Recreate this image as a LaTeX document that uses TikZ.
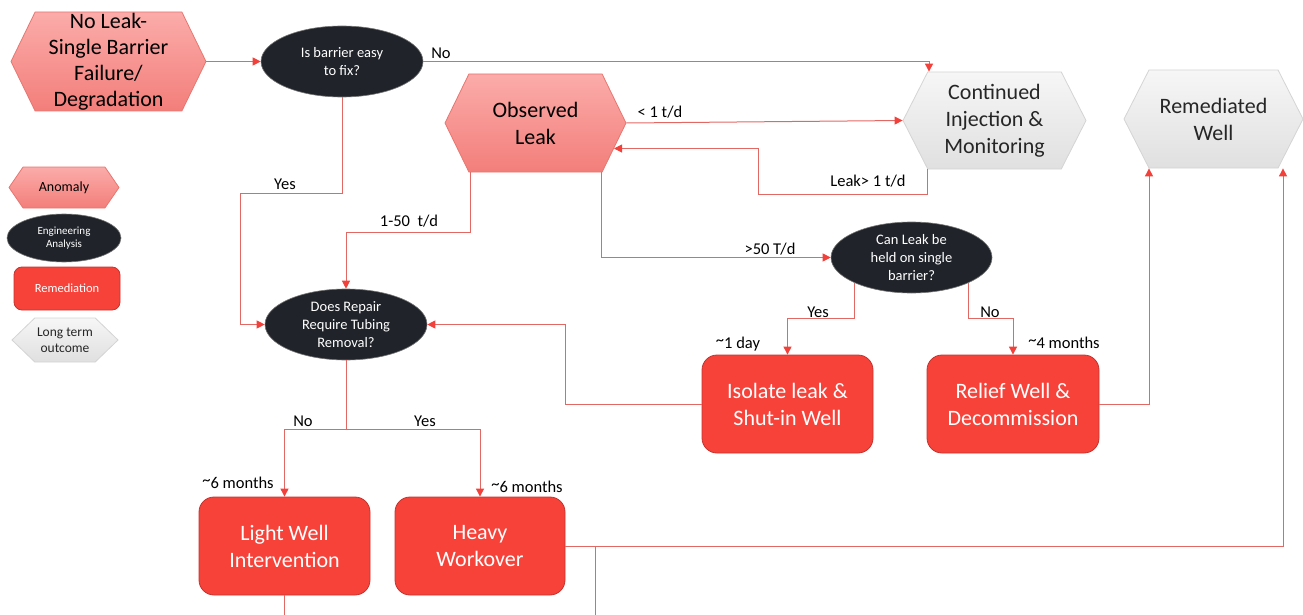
\documentclass[tikz,border=0pt]{standalone}
\usepackage{fontspec}
\setmainfont{Carlito}
\usetikzlibrary{arrows.meta,shapes.symbols,shapes.geometric}
\definecolor{lnred}{RGB}{226,104,100}
\definecolor{tipred}{RGB}{242,64,58}
\definecolor{anotop}{RGB}{251,172,170}
\definecolor{anobot}{RGB}{243,126,122}
\definecolor{anoedge}{RGB}{232,118,112}
\definecolor{engfill}{RGB}{32,36,42}
\definecolor{remfill}{RGB}{247,66,58}
\definecolor{remedge}{RGB}{196,52,46}
\definecolor{outtop}{RGB}{246,246,246}
\definecolor{outbot}{RGB}{224,224,224}
\definecolor{outedge}{RGB}{212,212,212}
\newcommand{\bigtxt}{\fontsize{22}{27}\selectfont}
\newcommand{\qtxt}{\fontsize{14.5}{18}\selectfont}
\newcommand{\lbltxt}{\fontsize{16.5}{19}\selectfont}
\newcommand{\about}{\raisebox{0.35ex}{\textasciitilde}}
\begin{document}
\begin{tikzpicture}[x=1pt,y=-1pt,
  hexbox/.style={signal, signal to=east and west, inner sep=0pt, align=center},
  anomaly/.style={hexbox, draw=anoedge, line width=0.8pt, top color=anotop, bottom color=anobot},
  outcome/.style={hexbox, draw=outedge, line width=0.8pt, top color=outtop, bottom color=outbot, text=black!85},
  question/.style={ellipse, fill=engfill, draw=black!55, line width=0.6pt, text=white, inner sep=0pt, align=center, font=\qtxt},
  remedy/.style={rectangle, rounded corners=15pt, fill=remfill, draw=remedge, line width=0.8pt, text=white, inner sep=0pt, align=center, font=\bigtxt},
  line/.style={draw=lnred, line width=1pt},
  conn/.style={line, -{Triangle[length=8pt,width=8pt,color=tipred]}},
  lbl/.style={font=\lbltxt, inner sep=0pt}]
\useasboundingbox (0,0) rectangle (1303,615);

% Marking anomalies
\node[anomaly, minimum width=195pt, minimum height=99pt, signal pointer angle=128, font=\fontsize{22}{26}\selectfont] (nolk) at (108.5,61.5) {No Leak-\\Single Barrier\\Failure/\\Degradation};
\node[anomaly, minimum width=181pt, minimum height=98pt, signal pointer angle=128, font=\bigtxt] (obs) at (535.5,123) {Observed\\Leak};

% Marking questions
\node[question, minimum width=162pt, minimum height=71pt] (easy) at (342,61.5) {Is barrier easy\\to fix?};
\node[question, minimum width=162pt, minimum height=71pt] (rep) at (346,324.5) {Does Repair\\Require Tubing\\Removal?};
\node[question, minimum width=161pt, minimum height=71pt] (hold) at (911.5,257.5) {Can Leak be\\held on single\\barrier?};

% Marking remediations
\node[remedy, minimum width=171pt, minimum height=98pt] (iso) at (787.5,404) {Isolate leak \&\\Shut-in Well};
\node[remedy, minimum width=172pt, minimum height=98pt] (relf) at (1013,404) {Relief Well \&\\Decommission};
\node[remedy, minimum width=171pt, minimum height=98pt] (light) at (284.5,546) {Light Well\\Intervention};
\node[remedy, minimum width=170pt, minimum height=98pt] (heavy) at (480,546) {Heavy\\Workover};

% Marking outcomes
\node[outcome, minimum width=183pt, minimum height=97pt, signal pointer angle=126, font=\bigtxt] (cont) at (994.5,120.5) {Continued\\Injection \&\\Monitoring};
\node[outcome, minimum width=179pt, minimum height=98pt, signal pointer angle=126, font=\bigtxt] (remw) at (1213.5,119) {Remediated\\Well};

% Marking legend
\node[anomaly, minimum width=110pt, minimum height=41pt, signal pointer angle=111, font=\fontsize{14}{16}\selectfont] (lgano) at (64,187.5) {Anomaly};
\node[question, minimum width=114pt, minimum height=48pt, font=\fontsize{11}{13}\selectfont] (lgeng) at (64,238) {Engineering\\Analysis};
\node[remedy, rounded corners=8pt, minimum width=106pt, minimum height=43pt, font=\fontsize{12.5}{15}\selectfont] (lgrem) at (67,288.5) {Remediation};
\node[outcome, minimum width=106pt, minimum height=44pt, signal pointer angle=88, font=\fontsize{13.5}{16.5}\selectfont] (lgout) at (65,340) {Long term\\outcome};

% Marking free ends
\coordinate (lightout) at (284.5,615);
\coordinate (heavyout) at (595,615);

% Drawing connectors
\draw[conn] (nolk.east) -- (easy.west);
\draw[conn] (easy.east) -| ([xshift=-65.5pt]cont.north);
\draw[conn] (obs.east) -- (cont.west);
\draw[conn] ([xshift=-67.5pt]cont.south) |- ++(-169,25) |- (obs.-18);
\draw[conn] ([xshift=-65.5pt]obs.south) -- ++(0,60) -| (rep.north);
\draw[conn] ([xshift=65.5pt]obs.south) |- (hold.west);
\draw[conn] (easy.south) -- ++(0,96) -| ([xshift=-24pt]rep.west) -- (rep.west);
\draw[conn] (hold.-156) |- ([yshift=36pt]iso.north) -- (iso.north);
\draw[conn] (hold.-24) |- ([yshift=36pt]relf.north) -- (relf.north);
\draw[conn] (iso.west) -- ++(-136,0) |- (rep.east);
\draw[conn] (relf.east) -| ([xshift=-64.5pt]remw.south);
\draw[conn] (heavy.east) -| ([xshift=69.5pt]remw.south);
\draw[conn] (rep.south) -- ++(0,69) -| (light.north);
\draw[conn] (rep.south) -- ++(0,69) -| (heavy.north);
\draw[line] (light.south) -- (lightout);
\draw[line] (heavy.east -| heavyout) -- (heavyout);

% Marking connector labels
\node[lbl] (lno1) at (441,53) {No};
\node[lbl] (lyes1) at (285,184) {Yes};
\node[lbl] (llt1) at (660,112) {< 1 t/d};
\node[lbl] (lgt1) at (868,181) {Leak> 1 t/d};
\node[lbl] (l150) at (409,221) {1-50\ \ t/d};
\node[lbl] (lgt50) at (770,249) {>50 T/d};
\node[lbl] (lyes2) at (818,312) {Yes};
\node[lbl] (lno2) at (990,312) {No};
\node[lbl] (lday) at (738,344) {\about1 day};
\node[lbl] (lfour) at (1064,343) {\about4 months};
\node[lbl] (lno3) at (303,421) {No};
\node[lbl] (lyes3) at (425,421) {Yes};
\node[lbl] (lsix1) at (238,483) {\about6 months};
\node[lbl] (lsix2) at (527,487) {\about6 months};
\end{tikzpicture}
\end{document}
